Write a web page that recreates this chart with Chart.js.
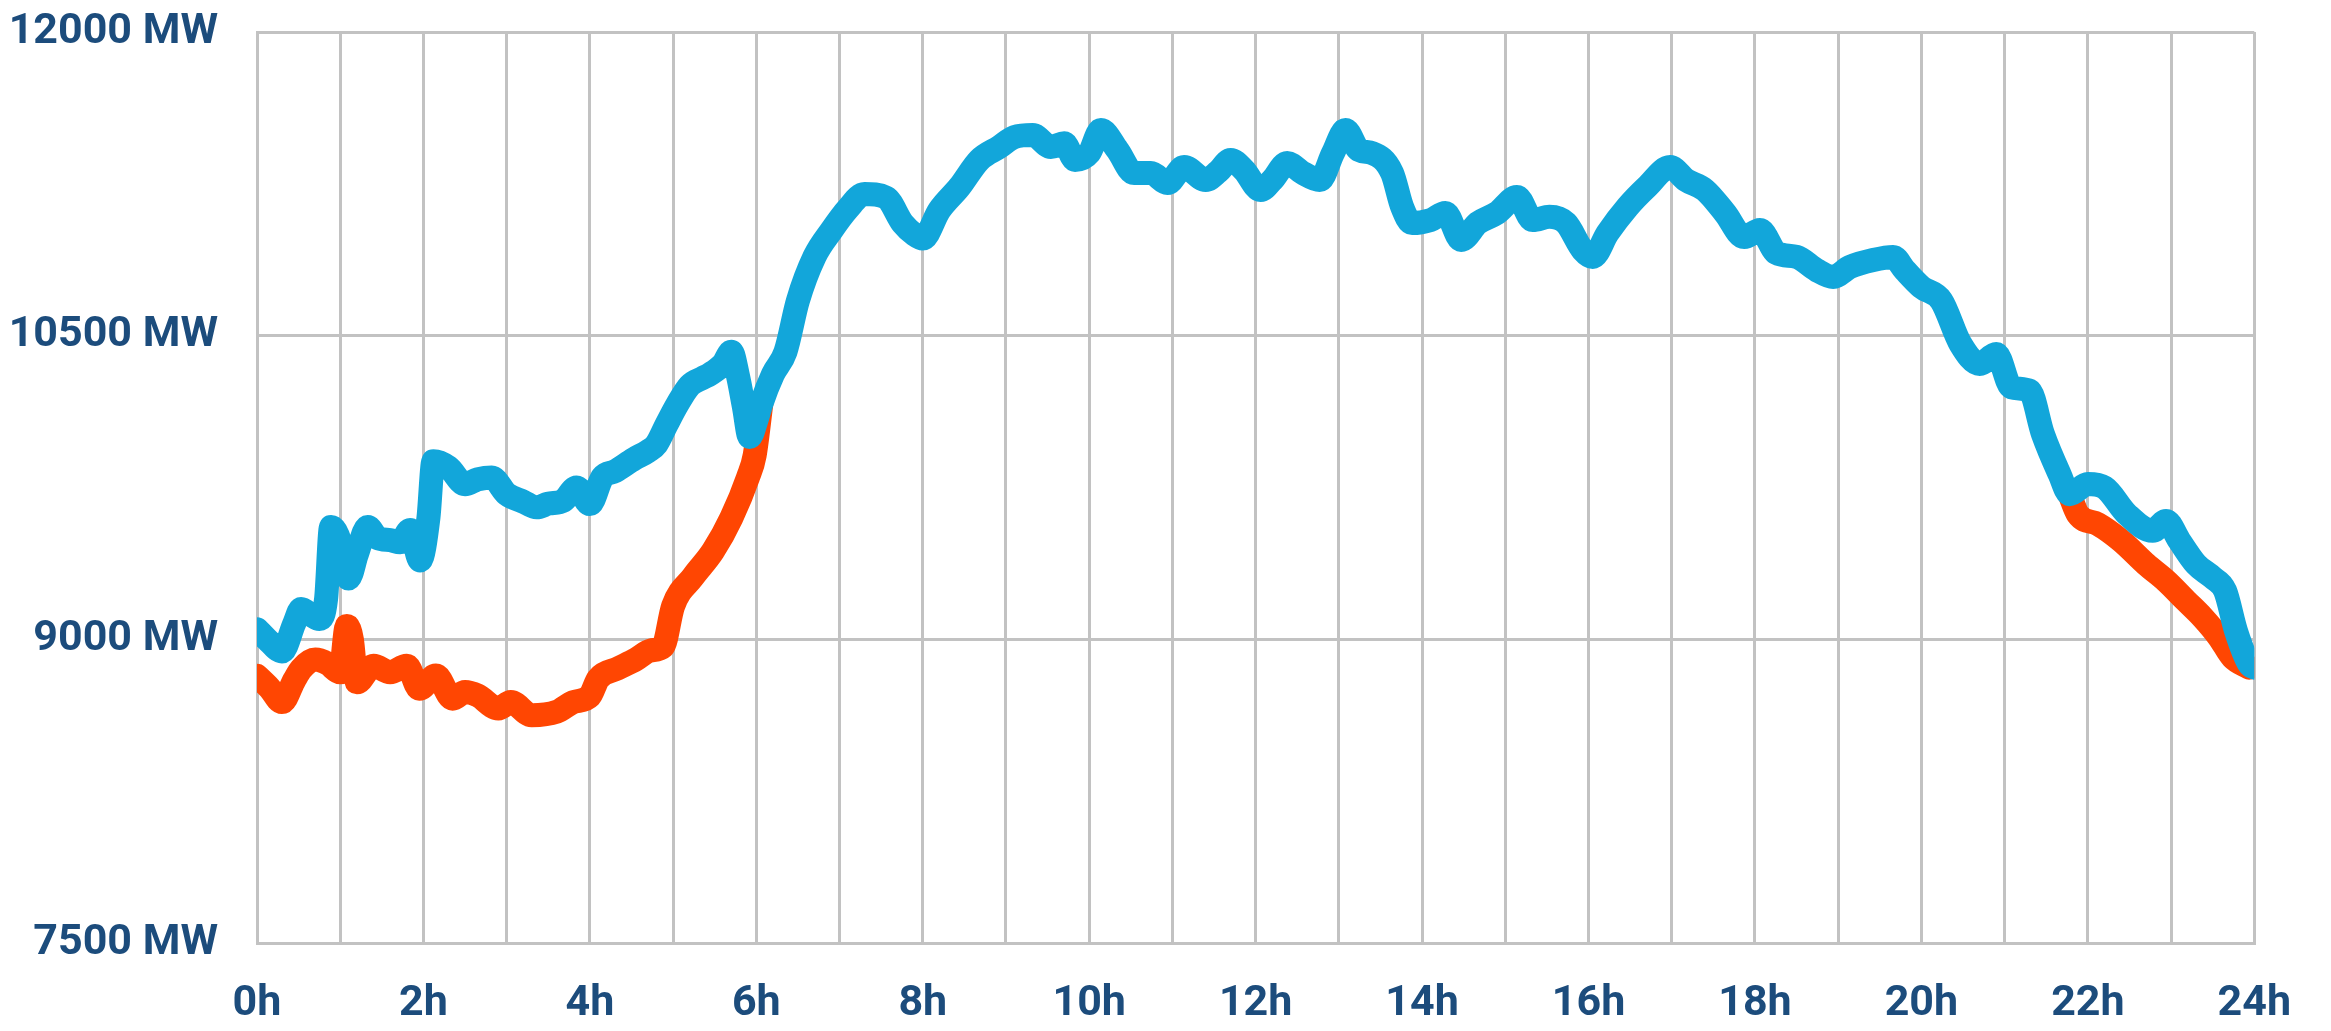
<!DOCTYPE html>
<html>
<head>
<meta charset="utf-8">
<script src="https://cdn.jsdelivr.net/npm/chart.js@4/dist/chart.umd.min.js"></script>
<style>
  html, body { margin: 0; padding: 0; background: #fff; }
  #wrap { width: 2331px; height: 1031px; }
</style>
</head>
<body>
<div id="wrap"><canvas id="load"></canvas></div>
<script>
// demand curve (hours, MW)
const blueHours = [0, 0.12, 0.3, 0.45, 0.53, 0.65, 0.75, 0.83, 0.89, 1, 1.1, 1.2, 1.33, 1.45, 1.6, 1.72, 1.84, 1.96, 2.06, 2.12, 2.3, 2.5, 2.65, 2.82, 3, 3.2, 3.36, 3.5, 3.68, 3.84, 4, 4.15, 4.3, 4.53, 4.7, 4.8, 4.92, 5.05, 5.2, 5.35, 5.44, 5.6, 5.7, 5.78, 5.85, 5.92, 6, 6.06, 6.2, 6.35, 6.5, 6.7, 6.9, 7.1, 7.3, 7.56, 7.76, 7.9, 8, 8.2, 8.44, 8.68, 8.92, 9.1, 9.32, 9.54, 9.7, 9.83, 10, 10.14, 10.34, 10.54, 10.74, 10.94, 11.14, 11.4, 11.55, 11.7, 11.86, 12.06, 12.2, 12.38, 12.57, 12.77, 12.93, 13.08, 13.24, 13.4, 13.64, 13.76, 13.88, 14.1, 14.28, 14.47, 14.67, 14.9, 15.14, 15.33, 15.53, 15.73, 15.93, 16.05, 16.23, 16.47, 16.7, 16.98, 17.17, 17.4, 17.64, 17.87, 18.06, 18.26, 18.5, 18.74, 18.94, 19.14, 19.42, 19.66, 19.8, 20, 20.24, 20.47, 20.7, 20.9, 21.08, 21.3, 21.46, 21.66, 21.78, 22, 22.2, 22.47, 22.78, 22.94, 23.1, 23.3, 23.5, 23.65, 23.78, 23.94, 24];
const blueMW = [9050, 9000, 8940, 9080, 9150, 9120, 9100, 9200, 9555, 9480, 9300, 9420, 9555, 9500, 9490, 9480, 9540, 9390, 9600, 9880, 9850, 9766, 9790, 9800, 9718, 9680, 9652, 9670, 9685, 9750, 9668, 9800, 9830, 9891, 9930, 9964, 10060, 10160, 10254, 10290, 10309, 10360, 10420, 10300, 10150, 10000, 10080, 10163, 10309, 10420, 10673, 10891, 11018, 11127, 11200, 11182, 11054, 11000, 10980, 11120, 11234, 11368, 11432, 11481, 11491, 11432, 11450, 11368, 11402, 11516, 11417, 11303, 11303, 11254, 11333, 11269, 11310, 11368, 11318, 11219, 11269, 11353, 11303, 11269, 11402, 11516, 11417, 11402, 11303, 11136, 11056, 11071, 11106, 10973, 11056, 11106, 11185, 11071, 11087, 11056, 10923, 10889, 11007, 11136, 11234, 11333, 11269, 11219, 11106, 10987, 11022, 10908, 10889, 10824, 10790, 10839, 10874, 10889, 10824, 10740, 10673, 10459, 10360, 10409, 10245, 10228, 10014, 9816, 9717, 9767, 9750, 9618, 9536, 9585, 9487, 9371, 9305, 9239, 9042, 8877, 8860];

// second curve, only visible where it leaves the blue one (null = hidden part)
const orangeHours = [0, 0.15, 0.3, 0.45, 0.53, 0.7, 0.85, 1, 1.08, 1.14, 1.2, 1.4, 1.6, 1.8, 1.95, 2.15, 2.35, 2.5, 2.65, 2.9, 3.05, 3.3, 3.6, 3.8, 4, 4.1, 4.33, 4.55, 4.73, 4.88, 5, 5.24, 5.48, 5.7, 5.9, 5.98, 6.06, 12, 21.78, 21.88, 22.12, 22.4, 22.7, 22.94, 23.18, 23.38, 23.58, 23.74, 23.94];
const orangeMW = [8820, 8760, 8690, 8800, 8853, 8900, 8880, 8837, 9066, 9000, 8788, 8870, 8837, 8870, 8756, 8821, 8707, 8740, 8723, 8658, 8690, 8625, 8642, 8690, 8720, 8805, 8855, 8900, 8945, 8964, 9164, 9309, 9436, 9600, 9800, 9909, 10163, null, 9717, 9618, 9569, 9487, 9371, 9289, 9190, 9108, 9009, 8910, 8860];

const yTicks = [7500, 9000, 10500, 12000];

const toPoints = (xs, ys) => xs.map((x, i) => ({ x: x, y: ys[i] }));

const labelFont = {
  family: "Roboto, 'Liberation Sans', sans-serif",
  size: 43,
  weight: 'bold',
  lineHeight: 1
};
const gridColor = '#c2c2c2';

const lineStyle = {
  borderWidth: 24,
  cubicInterpolationMode: 'monotone',
  pointRadius: 0,
  borderJoinStyle: 'round',
  borderCapStyle: 'round',
  spanGaps: false
};

new Chart(document.getElementById('load'), {
  type: 'line',
  data: {
    datasets: [
      Object.assign({ data: toPoints(blueHours, blueMW), borderColor: '#12a6da' }, lineStyle),
      Object.assign({ data: toPoints(orangeHours, orangeMW), borderColor: '#ff4602' }, lineStyle)
    ]
  },
  options: {
    responsive: true,
    maintainAspectRatio: false,
    animation: false,
    layout: { padding: { top: 32, right: 44, left: 0, bottom: 0 } },
    plugins: {
      legend: { display: false },
      tooltip: { enabled: false }
    },
    scales: {
      x: {
        type: 'linear',
        min: 0,
        max: 24,
        afterFit: (scale) => { scale.height = 88; },
        ticks: {
          stepSize: 1,
          autoSkip: false,
          maxRotation: 0,
          padding: 40,
          color: '#1c4c7c',
          font: labelFont,
          callback: (v) => (v % 2 === 0 ? v + 'h' : '')
        },
        grid: { color: gridColor, lineWidth: 3, drawTicks: false },
        border: { color: gridColor, width: 3 }
      },
      y: {
        min: yTicks[0],
        max: yTicks[yTicks.length - 1],
        afterFit: (scale) => {
          scale.width = 257;
          scale.paddingTop = 0;
          scale.paddingBottom = 0;
        },
        afterBuildTicks: (scale) => { scale.ticks = yTicks.map((v) => ({ value: v })); },
        ticks: {
          padding: 39,
          color: '#1c4c7c',
          font: labelFont,
          callback: (v) => v + ' MW'
        },
        grid: { color: gridColor, lineWidth: 3, drawTicks: false },
        border: { color: gridColor, width: 3 }
      }
    }
  }
});
</script>
</body>
</html>
